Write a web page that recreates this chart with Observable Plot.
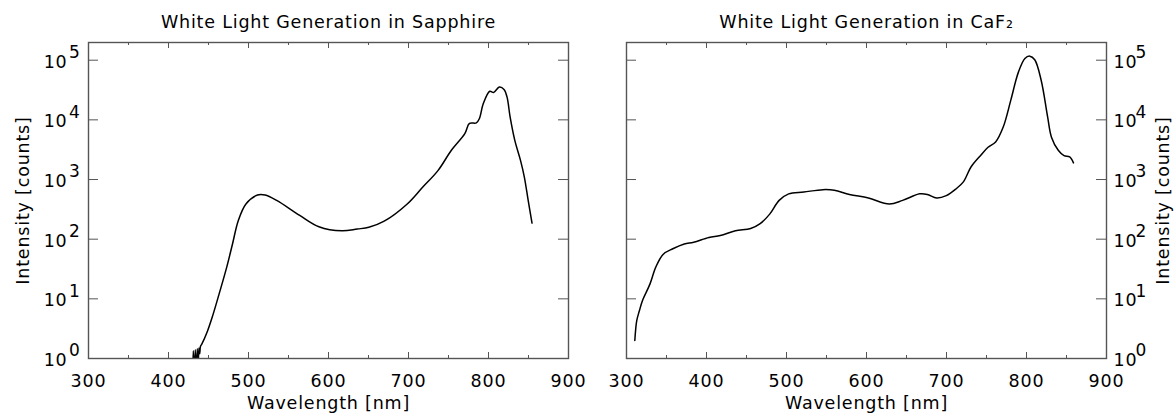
<!DOCTYPE html>
<html><head><meta charset="utf-8">
<script src="https://cdn.jsdelivr.net/npm/d3@7"></script>
<script src="https://cdn.jsdelivr.net/npm/@observablehq/plot@0.6"></script>
<style>
body{margin:0;background:#fff;}
#wrap{position:relative;width:1175px;height:414px;overflow:hidden;}
#wrap svg{position:absolute;top:0;}
</style></head><body><div id="wrap"></div>
<script>
// ---- data ----
const sapphireWavelength = [430,431,432,433.5,434.5,436,437,438,439,440,441.6,448.8,454.6,463.2,472.8,480,487.2,496.8,511.2,520.8,535.2,564,588,616.8,636,650.4,669.6,698.4,717.6,736.8,753.6,770.4,776.2,784.8,788.6,793.4,801.6,806.4,813.6,819.4,823.2,827,832.8,840,844.8,849.6,854.4];
const sapphireCounts = [0.5,1.35,0.5,1.4,0.5,1.45,0.6,1.5,1.2,1.6,1.74,2.9,4.9,12,34,83,204,389,550,550,447,251,162,138,148,158,200,389,741,1410,3090,5890,8710,8910,10500,18600,30200,28800,35500,32400,24000,11200,4570,2090,1100,447,186];
const caf2Wavelength = [310.4,312.8,316.1,319.9,329.4,336.6,346,357.9,372.2,384,403,417.3,436.2,455.2,467.1,479,490.8,502.7,521.7,545.4,559.7,578.7,602.4,628.5,645.1,666.5,676,687.8,699.7,711.6,721.1,730.6,742.4,751.9,761.4,770.9,780.4,789.9,798,804.1,810.3,818.4,826.4,831.2,839.7,846.9,854,858.7];
const caf2Counts = [2.0,4.3,6.3,9.3,17.8,34,56,69,83,89,107,115,138,151,182,263,447,575,617,676,661,562,490,389,447,575,562,490,537,692,912,1620,2510,3470,4270,7590,21400,63100,107000,117000,102000,45700,11200,5130,3090,2510,2400,1900];
const xMajorTicks = [300,400,500,600,700,800,900];
const xMinorTicks = [350,450,550,650,750,850];
const yTicks = [1,10,100,1000,10000,100000];
const yExponents = ["0","1","2","3","4","5"];
const panelTitles = ["White Light Generation in Sapphire","White Light Generation in CaF\u2082"];
const xLabel = "Wavelength [nm]";
const yLabel = "Intensity [counts]";

const FONT = "DejaVu Sans";
const AXIS = "#555";
const H = 414, MT = 42, MB = 56;
const FW = 480, FH = H - MT - MB;

function panel(wl, counts, title, side, left, width, ml, mr) {
  const data = wl.map((w, i) => ({w, c: counts[i]}));
  const isLeft = side === "left";
  const T = {fill: "#000", lineAnchor: "middle"};
  const marks = [
    Plot.line(data, {x: "w", y: "c", curve: "catmull-rom", stroke: "#000", strokeWidth: 1.5, clip: true}),
    Plot.frame({stroke: AXIS, strokeWidth: 1.4}),
    Plot.ruleX(xMajorTicks, {x: d => d, insetTop: FH - 6, stroke: AXIS}),
    Plot.ruleX(xMajorTicks, {x: d => d, insetBottom: FH - 6, stroke: AXIS}),
    Plot.ruleX(xMinorTicks, {x: d => d, insetTop: FH - 3, stroke: AXIS}),
    Plot.ruleX(xMinorTicks, {x: d => d, insetBottom: FH - 3, stroke: AXIS}),
    Plot.ruleY(yTicks, {y: d => d, insetRight: FW - 10, stroke: AXIS}),
    Plot.ruleY(yTicks, {y: d => d, insetLeft: FW - 10, stroke: AXIS}),
    Plot.text(xMajorTicks, {...T, x: d => d, frameAnchor: "bottom", dy: 22.5, text: d => String(d), fontSize: 17.5}),
    Plot.text([xLabel], {...T, frameAnchor: "bottom", dy: 45, text: d => d, fontSize: 17.5}),
    Plot.text([title], {...T, frameAnchor: "top", dy: -20.5, text: d => d, fontSize: 17.5}),
    isLeft
      ? Plot.text(yTicks, {...T, y: d => d, frameAnchor: "left", text: () => "10", textAnchor: "end", dx: -21, dy: 2, fontSize: 17.5})
      : Plot.text(yTicks, {...T, y: d => d, frameAnchor: "right", text: () => "10", textAnchor: "start", dx: 7, dy: 2, fontSize: 17.5}),
    isLeft
      ? Plot.text(yTicks, {...T, y: d => d, frameAnchor: "left", text: (d, i) => yExponents[i], textAnchor: "end", dx: -8, dy: -7.5, fontSize: 17})
      : Plot.text(yTicks, {...T, y: d => d, frameAnchor: "right", text: (d, i) => yExponents[i], textAnchor: "start", dx: 29, dy: -7.5, fontSize: 17}),
    Plot.text([yLabel], {...T, textAnchor: "middle", frameAnchor: isLeft ? "left" : "right", dx: isLeft ? -65 : 57, rotate: -90, text: d => d, fontSize: 17.5})
  ];
  const svg = Plot.plot({
    width, height: H,
    marginTop: MT, marginBottom: MB, marginLeft: ml, marginRight: mr,
    x: {domain: [300, 900], axis: null},
    y: {type: "log", domain: [1, 198000], axis: null},
    style: {fontFamily: FONT, background: "transparent", overflow: "visible", letterSpacing: "0.8px"},
    marks
  });
  svg.style.left = left + "px";
  document.getElementById("wrap").appendChild(svg);
}

panel(sapphireWavelength, sapphireCounts, panelTitles[0], "left", 0, 597, 88, 29);
panel(caf2Wavelength, caf2Counts, panelTitles[1], "right", 597, 578, 29, 69);
</script></body></html>
